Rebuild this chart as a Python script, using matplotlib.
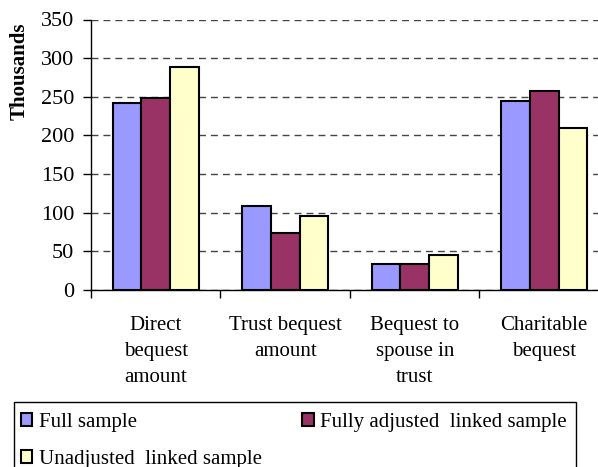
import matplotlib
matplotlib.use('Agg')
import matplotlib.pyplot as plt
import matplotlib.patches as patches
import numpy as np

plt.rcParams['font.family'] = ['Liberation Serif', 'DejaVu Serif']

categories = ['Direct\nbequest\namount', 'Trust bequest\namount',
              'Bequest to\nspouse in\ntrust', 'Charitable\nbequest']
full_sample = [242, 109, 34, 244]
fully_adjusted = [248, 74, 34, 258]
unadjusted = [289, 96, 45, 210]
series_names = ['Full sample', 'Fully adjusted  linked sample', 'Unadjusted  linked sample']
colors = ['#9999FF', '#993366', '#FFFFCC']
yticks = [0, 50, 100, 150, 200, 250, 300, 350]

W, H = 598, 467
fig = plt.figure(figsize=(W / 100, H / 100), dpi=100)
# axes runs a bit past the right edge, as in the original
ax = fig.add_axes([91 / W, 1 - 290 / H, 518 / W, 270.5 / H])

centers = np.arange(len(categories)) + 0.5
bw = 0.222
for k, vals in enumerate([full_sample, fully_adjusted, unadjusted]):
    ax.bar(centers + (k - 1) * bw, vals, width=bw, color=colors[k],
           edgecolor='black', linewidth=1.5, zorder=3)

ax.set_xlim(0, len(categories))
ax.set_ylim(0, 350)
ax.set_yticks(yticks)
ax.yaxis.grid(True, color='#444444', linestyle=(0, (5, 3.6)), linewidth=1.0, zorder=0)
ax.set_axisbelow(True)

ax.set_xticks(np.arange(len(categories) + 1))
ax.set_xticklabels([])
ax.set_xticks(centers, minor=True)
ax.set_xticklabels(categories, minor=True, fontsize=15, linespacing=1.5)
ax.tick_params(axis='x', which='minor', length=0, pad=19)
ax.tick_params(axis='x', which='major', length=6, width=1, direction='out')
ax.tick_params(axis='y', length=6, width=1, direction='out', labelsize=16, pad=6)

for s in ['top', 'right']:
    ax.spines[s].set_visible(False)
ax.spines['left'].set_linewidth(1)
ax.spines['bottom'].set_linewidth(1)

fig.text(20 / W, 1 - 71 / H, 'Thousands', rotation=90, fontsize=15,
         fontweight='bold', ha='center', va='center')

# legend box, its bottom edge lies below the picture
fig.patches.append(patches.Rectangle((14 / W, -0.1), (576 - 14) / W, 0.1 + 1 - 402 / H,
                                     transform=fig.transFigure, fill=False,
                                     edgecolor='black', linewidth=1, clip_on=False))
handles = [patches.Patch(facecolor=colors[0], edgecolor='black', linewidth=1.5),
           patches.Patch(facecolor=colors[2], edgecolor='black', linewidth=1.5),
           patches.Patch(facecolor=colors[1], edgecolor='black', linewidth=1.5)]
labels = [series_names[0], series_names[2], series_names[1]]
fig.legend(handles, labels, ncol=2, loc='upper left',
           bbox_to_anchor=(21 / W, 1 - 413 / H), frameon=False, fontsize=15,
           handlelength=0.55, handleheight=0.55, handletextpad=0.3,
           labelspacing=0.85, columnspacing=1.95, borderpad=0, borderaxespad=0)

fig.savefig('out.png', dpi=100)
